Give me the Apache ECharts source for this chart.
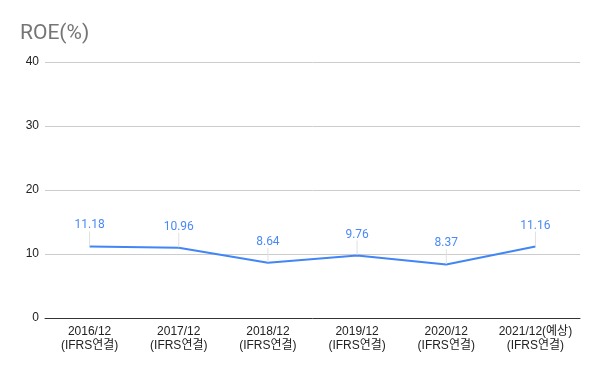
<!DOCTYPE html>
<html>
<head>
<meta charset="utf-8">
<script src="https://cdn.jsdelivr.net/npm/echarts@6/dist/echarts.min.js"></script>
<style>html,body{margin:0;padding:0;background:#fff}#c{width:600px;height:371px}</style>
</head>
<body>
<div id="c"></div>
<script>
const categories = ['2016/12\n(IFRS연결)', '2017/12\n(IFRS연결)', '2018/12\n(IFRS연결)', '2019/12\n(IFRS연결)', '2020/12\n(IFRS연결)', '2021/12(예상)\n(IFRS연결)'];
const roe = [11.18, 10.96, 8.64, 9.76, 8.37, 11.16];
const yTicks = [0, 10, 20, 30, 40];

const chart = echarts.init(document.getElementById('c'), null, {renderer: 'canvas'});
chart.setOption({
  animation: false,
  title: {
    text: 'ROE(%)', left: 15, top: 18,
    textStyle: {fontFamily: 'Roboto', fontSize: 21, fontWeight: 'normal', color: '#757575'}
  },
  grid: {left: 45, right: 20, top: 62, bottom: 53},
  xAxis: {
    type: 'category', data: categories, boundaryGap: true,
    axisLine: {lineStyle: {color: '#333', width: 1}},
    axisTick: {show: false},
    axisLabel: {fontFamily: 'Liberation Sans, Arial, Noto Sans CJK KR', fontSize: 12, color: '#222', margin: 7, lineHeight: 14, interval: 0}
  },
  yAxis: {
    type: 'value', min: yTicks[0], max: yTicks[yTicks.length - 1], interval: 10,
    axisLine: {show: false}, axisTick: {show: false},
    splitLine: {lineStyle: {color: '#cccccc'}},
    axisLabel: {fontFamily: 'Liberation Sans, Arial', fontSize: 12, color: '#222', margin: 6}
  },
  series: [{
    type: 'line', data: roe, showSymbol: true, symbol: 'circle', symbolSize: 1,
    lineStyle: {color: '#4285F4', width: 2},
    itemStyle: {color: 'rgba(66,133,244,0)'},
    label: {show: true, position: 'inside', opacity: 1, fontFamily: 'Roboto', fontSize: 12, color: '#4a89f5', formatter: p => p.value.toFixed(2)},
    labelLayout: {dy: -21},
    labelLine: {show: true, lineStyle: {color: '#e0e0e0', width: 1, opacity: 1}}
  }]
});
</script>
</body>
</html>
